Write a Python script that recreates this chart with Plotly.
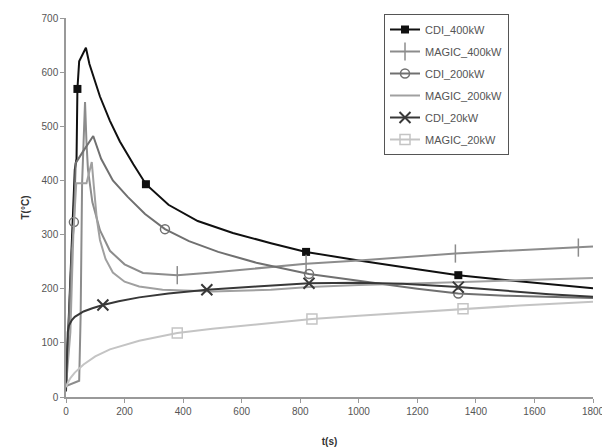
import plotly.graph_objects as go

# ---- data ----
t_cdi400 = [0, 5, 10, 20, 30, 36, 39, 45, 68, 80, 100, 116, 150, 184, 230, 273, 350, 450, 570, 700, 820, 1000, 1200, 1340, 1500, 1650, 1800]
T_cdi400 = [20, 90, 160, 300, 420, 440, 569, 620, 645, 615, 580, 555, 510, 472, 430, 393, 355, 325, 303, 284, 268, 252, 236, 225, 216, 208, 201]
mt_cdi400 = [39, 273, 820, 1340]
mT_cdi400 = [569, 393, 268, 225]

t_magic400 = [0, 20, 45, 50, 55, 60, 65, 70, 75, 90, 116, 150, 200, 263, 380, 500, 650, 820, 1000, 1200, 1330, 1500, 1750, 1800]
T_magic400 = [20, 25, 30, 150, 395, 470, 545, 470, 420, 360, 308, 270, 245, 229, 225, 230, 238, 246, 252, 260, 265, 270, 276, 278]
mt_magic400 = [380, 820, 1330, 1750]
mT_magic400 = [225, 246, 265, 276]

t_cdi200 = [0, 5, 10, 20, 27, 33, 60, 93, 120, 160, 210, 270, 338, 420, 520, 650, 830, 1000, 1200, 1340, 1500, 1800]
T_cdi200 = [20, 90, 160, 270, 323, 432, 455, 482, 440, 400, 370, 338, 310, 288, 268, 248, 227, 214, 200, 191, 187, 183]
mt_cdi200 = [27, 338, 830, 1340]
mT_cdi200 = [323, 310, 227, 191]

t_magic200 = [0, 15, 25, 35, 70, 80, 88, 95, 105, 116, 135, 160, 200, 250, 330, 500, 700, 830, 1000, 1330, 1600, 1800]
T_magic200 = [20, 120, 300, 395, 395, 420, 434, 390, 330, 290, 255, 230, 213, 204, 198, 195, 198, 203, 207, 212, 216, 220]

t_cdi20 = [0, 3, 6, 10, 20, 30, 60, 90, 126, 180, 250, 350, 481, 650, 830, 1000, 1150, 1340, 1500, 1650, 1800]
T_cdi20 = [10, 80, 120, 132, 142, 148, 158, 164, 170, 177, 184, 191, 198, 204, 210, 211, 209, 203, 196, 190, 185]
mt_cdi20 = [126, 481, 830, 1340]
mT_cdi20 = [170, 198, 210, 203]

t_magic20 = [0, 5, 15, 30, 60, 100, 150, 250, 380, 500, 650, 840, 1000, 1200, 1356, 1550, 1800]
T_magic20 = [18, 25, 35, 45, 60, 75, 88, 104, 118, 126, 134, 144, 150, 157, 163, 169, 176]
mt_magic20 = [380, 840, 1356]
mT_magic20 = [118, 144, 163]

x_ticks = [0, 200, 400, 600, 800, 1000, 1200, 1400, 1600, 1800]
y_ticks = [0, 100, 200, 300, 400, 500, 600, 700]

series = [
    ("CDI_400kW", t_cdi400, T_cdi400, mt_cdi400, mT_cdi400, "#101010", 2.0,
     dict(symbol="square", size=8, color="#101010")),
    ("MAGIC_400kW", t_magic400, T_magic400, mt_magic400, mT_magic400, "#8c8c8c", 2.0,
     dict(symbol="line-ns", size=13, line=dict(color="#8c8c8c", width=1.5))),
    ("CDI_200kW", t_cdi200, T_cdi200, mt_cdi200, mT_cdi200, "#707070", 2.0,
     dict(symbol="circle-open", size=9, color="#707070", line=dict(color="#707070", width=1.5))),
    ("MAGIC_200kW", t_magic200, T_magic200, None, None, "#a0a0a0", 2.0, None),
    ("CDI_20kW", t_cdi20, T_cdi20, mt_cdi20, mT_cdi20, "#383838", 2.0,
     dict(symbol="x-thin", size=11, line=dict(color="#383838", width=2))),
    ("MAGIC_20kW", t_magic20, T_magic20, mt_magic20, mT_magic20, "#c4c4c4", 2.0,
     dict(symbol="square-open", size=10, color="#c4c4c4", line=dict(color="#c4c4c4", width=1.5))),
]

fig = go.Figure()
for name, tx, ty, mx, my, col, w, mk in series:
    fig.add_trace(go.Scatter(x=tx, y=ty, mode="lines", line=dict(color=col, width=w),
                             showlegend=False, hoverinfo="skip", legendgroup=name))
    if mk is not None:
        fig.add_trace(go.Scatter(x=mx, y=my, mode="markers", marker=mk,
                                 showlegend=False, hoverinfo="skip", legendgroup=name))
    # legend entry
    if mk is not None:
        fig.add_trace(go.Scatter(x=[None], y=[None], mode="lines+markers", name=name,
                                 line=dict(color=col, width=w), marker=mk, legendgroup=name))
    else:
        fig.add_trace(go.Scatter(x=[None], y=[None], mode="lines", name=name,
                                 line=dict(color=col, width=w), legendgroup=name))

# page body adds an 8px offset; figure is sized so it ends at the window edge
W, H = 602, 440
axis_font = dict(family="Liberation Sans, Arial, sans-serif", size=10, color="#555555")
fig.update_layout(
    width=W, height=H,
    margin=dict(l=58, r=17, t=10, b=51, autoexpand=False),
    paper_bgcolor="white", plot_bgcolor="white",
    font=dict(family="Liberation Sans, Arial, sans-serif", size=10, color="#555555"),
    legend=dict(x=376 / W, y=1 - 6 / H, xref="container", yref="container",
                xanchor="left", yanchor="top",
                bgcolor="white", bordercolor="#555555", borderwidth=1,
                font=dict(size=11, color="#555555"), tracegroupgap=3,
                itemwidth=30),
    xaxis=dict(range=[0, 1800], tickvals=x_ticks, showgrid=False, zeroline=False,
               showline=True, linecolor="#999999", linewidth=1.5, automargin=False,
               ticks="outside", ticklen=4, tickcolor="#999999", tickfont=axis_font,
               title=dict(text="<b>t(s)</b>", font=dict(size=10, color="#333333"), standoff=22)),
    yaxis=dict(range=[0, 700], tickvals=y_ticks, showgrid=False, zeroline=False,
               showline=True, linecolor="#999999", linewidth=1.5, automargin=False,
               ticks="outside", ticklen=4, tickcolor="#999999", tickfont=axis_font,
               title=dict(text="<b>T(°C)</b>", font=dict(size=10, color="#333333"), standoff=10)),
)

fig.write_html("out.html")
